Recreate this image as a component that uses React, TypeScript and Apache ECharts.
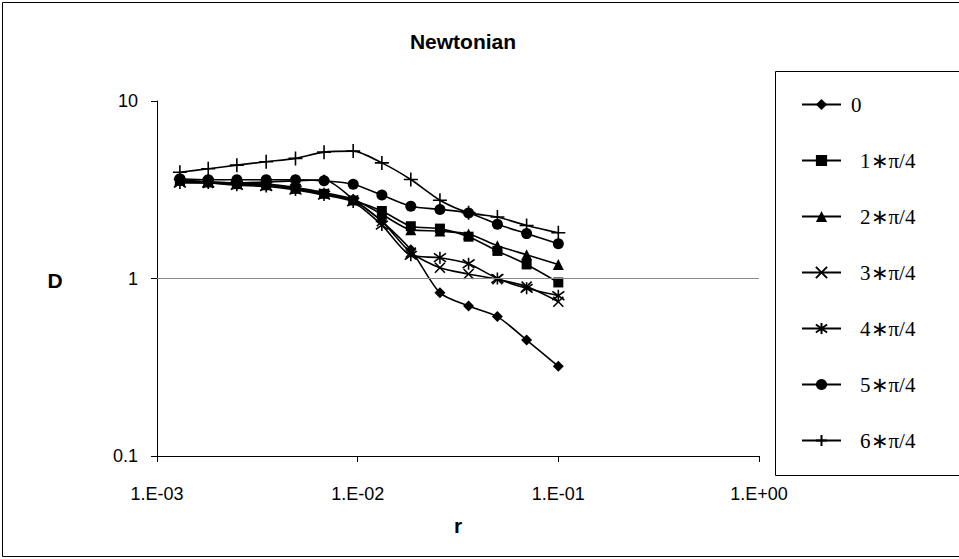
import React, { useEffect, useRef } from "react";
import * as echarts from "echarts";

const rValues = [0.0013, 0.0018, 0.0025, 0.0035, 0.0049, 0.0068, 0.0095, 0.0132, 0.0184, 0.0257, 0.0357, 0.0497, 0.0695, 0.1];

const seriesNames = ["0", "1∗π/4", "2∗π/4", "3∗π/4", "4∗π/4", "5∗π/4", "6∗π/4"];

const d0 = [3.55, 3.5, 3.45, 3.5, 3.55, 3.6, 2.8, 2.1, 1.45, 0.83, 0.7, 0.61, 0.45, 0.32];
const d1 = [3.55, 3.5, 3.4, 3.35, 3.2, 3.0, 2.75, 2.4, 1.97, 1.91, 1.72, 1.43, 1.2, 0.95];
const d2 = [3.6, 3.5, 3.45, 3.4, 3.25, 3.05, 2.8, 2.3, 1.88, 1.85, 1.78, 1.53, 1.36, 1.2];
const d3 = [3.5, 3.45, 3.4, 3.35, 3.2, 3.0, 2.75, 2.1, 1.4, 1.15, 1.06, 0.99, 0.9, 0.74];
const d4 = [3.45, 3.45, 3.35, 3.3, 3.15, 2.95, 2.7, 2.0, 1.35, 1.31, 1.21, 1.0, 0.88, 0.8];
const d5 = [3.65, 3.6, 3.6, 3.6, 3.6, 3.55, 3.4, 2.95, 2.55, 2.45, 2.34, 2.02, 1.79, 1.57];
const d6 = [3.97, 4.15, 4.35, 4.55, 4.75, 5.15, 5.22, 4.48, 3.61, 2.76, 2.35, 2.22, 1.99, 1.81];

const seriesData = [d0, d1, d2, d3, d4, d5, d6];

const xTickLabels: Record<string, string> = { "0.001": "1.E-03", "0.01": "1.E-02", "0.1": "1.E-01", "1": "1.E+00" };
const yTickLabels: Record<string, string> = { "0.1": "0.1", "1": "1", "10": "10" };

const symbols = [
  { symbol: "diamond", size: 11, stroked: false },
  { symbol: "rect", size: 10, stroked: false },
  { symbol: "triangle", size: 11, stroked: false },
  { symbol: "path://M0,0L10,10M10,0L0,10", size: 10, stroked: true },
  { symbol: "path://M0,0L10,10M10,0L0,10M5,-2L5,12", size: 12, stroked: true },
  { symbol: "circle", size: 11, stroked: false },
  { symbol: "path://M5,0L5,14M0,7L10,7", size: 14, stroked: true },
];

export default function App() {
  const ref = useRef<HTMLDivElement>(null);
  useEffect(() => {
    if (!ref.current) return;
    const chart = echarts.init(ref.current, undefined, { renderer: "svg" });
    const font = "'Liberation Sans', Arial, sans-serif";
    const serif = "'Liberation Serif', 'Times New Roman', serif";
    const series: any[] = seriesData.map((d, i) => ({
      name: seriesNames[i],
      type: "line",
      smooth: 0.25,
      data: rValues.map((r, k) => [r, d[k]]),
      symbol: symbols[i].symbol,
      symbolSize: symbols[i].size,
      showSymbol: true,
      lineStyle: { color: "#000", width: 1.6 },
      itemStyle: symbols[i].stroked
        ? { color: "#000", borderColor: "#000", borderWidth: 1.6 }
        : { color: "#000", borderWidth: 0 },
      z: 3,
    }));
    series[0].markLine = {
      silent: true,
      symbol: "none",
      label: { show: false },
      lineStyle: { color: "#888", width: 1, type: "solid" },
      data: [{ yAxis: 1 }],
    };
    chart.setOption({
      animation: false,
      backgroundColor: "#fff",
      grid: { left: 157, right: 200, top: 101, bottom: 103 },
      xAxis: {
        type: "log",
        logBase: 10,
        min: 0.001,
        max: 1,
        axisLine: { show: true, lineStyle: { color: "#000", width: 1 } },
        axisTick: { show: true, length: 6, lineStyle: { color: "#000" } },
        minorTick: { show: false },
        splitLine: { show: false },
        axisLabel: {
          color: "#000",
          fontFamily: font,
          fontSize: 18,
          margin: 29,
          formatter: (v: number) => xTickLabels[String(v)] ?? "",
        },
      },
      yAxis: {
        type: "log",
        logBase: 10,
        min: 0.1,
        max: 10,
        axisLine: { show: true, lineStyle: { color: "#000", width: 1 } },
        axisTick: { show: true, length: 6, lineStyle: { color: "#000" } },
        splitLine: { show: false },
        axisLabel: {
          color: "#000",
          fontFamily: font,
          fontSize: 18,
          margin: 19,
          formatter: (v: number) => yTickLabels[String(v)] ?? "",
        },
      },
      title: {
        text: "Newtonian",
        left: 458,
        textAlign: "center",
        top: 26,
        textStyle: { fontFamily: font, fontSize: 21, fontWeight: "bold", color: "#000" },
      },
      legend: {
        orient: "vertical",
        left: 796,
        top: 89,
        itemWidth: 39,
        itemHeight: 14,
        itemGap: 35,
        data: seriesNames.map((n, i) => ({
          name: n,
          textStyle: { padding: [0, 0, 0, i === 0 ? 5 : 14] },
        })),
        textStyle: {
          fontFamily: serif,
          fontSize: 21,
          color: "#000",
        },
      },
      graphic: [
        {
          type: "rect",
          shape: { x: 2.5, y: 2.5, width: 1000, height: 554 },
          style: { fill: "none", stroke: "#000", lineWidth: 1 },
          silent: true,
          z: 0,
        },
        {
          type: "rect",
          shape: { x: 775.5, y: 71.5, width: 300, height: 404 },
          style: { fill: "none", stroke: "#000", lineWidth: 1 },
          silent: true,
          z: 0,
        },
        {
          type: "text",
          x: 55,
          y: 280,
          style: {
            text: "D",
            font: "bold 21px 'Liberation Sans', Arial, sans-serif",
            fill: "#000",
            align: "center",
            verticalAlign: "middle",
          },
        },
        {
          type: "text",
          x: 458,
          y: 525,
          style: {
            text: "r",
            font: "bold 21px 'Liberation Sans', Arial, sans-serif",
            fill: "#000",
            align: "center",
            verticalAlign: "middle",
          },
        },
      ],
      series,
    });
    return () => chart.dispose();
  }, []);
  return <div ref={ref} style={{ width: 959, height: 559, position: "absolute", left: 0, top: 0 }} />;
}
